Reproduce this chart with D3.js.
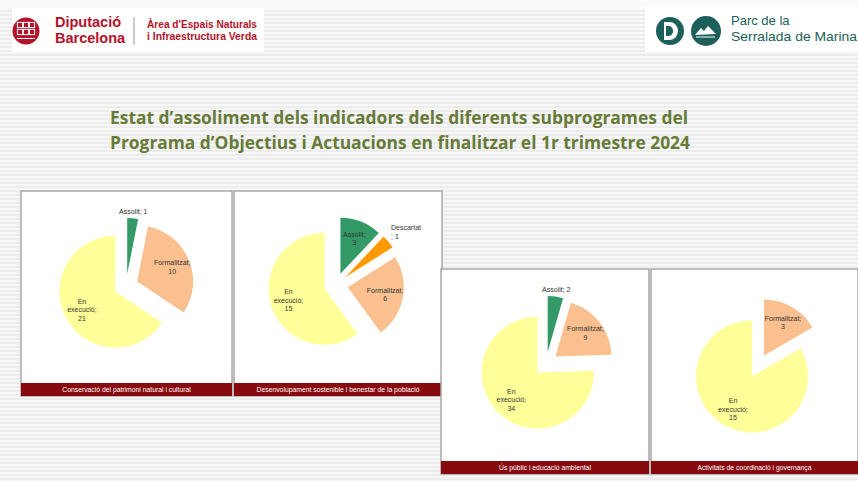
<!DOCTYPE html>
<html>
<head>
<meta charset="utf-8">
<script src="https://cdn.jsdelivr.net/npm/d3@7"></script>
<style>
  html, body { margin: 0; padding: 0; background: #f3f3f3; }
  svg { display: block; }
</style>
</head>
<body>
<script>
// ---------- DATA ----------
const subprograms = [
  "Conservació del patrimoni natural i cultural",
  "Desenvolupament sostenible i benestar de la població",
  "Ús públic i educació ambiental",
  "Activitats de coordinació i governança"
];
const statuses = ["Assolit", "Descartat", "Formalitzat", "En execució"];
const assolit     = [1, 3, 2, 0];
const descartat   = [0, 1, 0, 0];
const formalitzat = [10, 6, 9, 3];
const enExecucio  = [21, 15, 34, 15];

const titleLines = [
  "Estat d’assoliment dels indicadors dels diferents subprogrames del",
  "Programa d’Objectius i Actuacions en finalitzar el 1r trimestre 2024"
];

// ---------- LAYOUT ----------
const W = 858, H = 481;
const panels = [
  {x: 21,  y: 191, w: 211, h: 205, cx: 126, cy: 286},
  {x: 234, y: 191, w: 208, h: 205, cx: 336, cy: 285},
  {x: 441, y: 269, w: 208, h: 205, cx: 546, cy: 364},
  {x: 651, y: 269, w: 207, h: 205, cx: 758, cy: 366}
];
const R = 56, EXPLODE = 12, LABEL_R = 50;

const color = d3.scaleOrdinal()
  .domain(statuses)
  .range(["#339966", "#ff9900", "#fac090", "#ffff99"]);

const svg = d3.select("body").append("svg")
  .attr("width", W).attr("height", H)
  .attr("font-family", "Liberation Sans, Arial, sans-serif");

// background stripes
const defs = svg.append("defs");
const pat = defs.append("pattern").attr("id", "stripes")
  .attr("width", 4).attr("height", 4).attr("patternUnits", "userSpaceOnUse");
pat.append("rect").attr("width", 4).attr("height", 4).attr("fill", "#f7f7f7");
pat.append("rect").attr("y", 2).attr("width", 4).attr("height", 2).attr("fill", "#ececec");
svg.append("rect").attr("width", W).attr("height", H).attr("fill", "url(#stripes)");

// ---------- HEADER ----------
svg.append("rect").attr("x", 0).attr("y", 0).attr("width", W).attr("height", 8).attr("fill", "#fafafa");
svg.append("rect").attr("x", 12).attr("y", 8).attr("width", 252).attr("height", 44).attr("fill", "#ffffff");
svg.append("rect").attr("x", 645).attr("y", 6).attr("width", 213).attr("height", 46).attr("fill", "#ffffff");

const red = "#b3122a";
const dip = svg.append("g");
dip.append("circle").attr("cx", 26).attr("cy", 31).attr("r", 13.5).attr("fill", red);
[[20,25],[26,25],[32,25],[20,32],[26,32],[32,32]].forEach(([x,y]) => {
  dip.append("rect").attr("x", x-2.6).attr("y", y-2.6).attr("width", 5.2).attr("height", 5.2)
    .attr("fill", "none").attr("stroke", "#fff").attr("stroke-width", 1);
});
dip.append("line").attr("x1", 17).attr("x2", 35).attr("y1", 38.5).attr("y2", 38.5).attr("stroke", "#fff").attr("stroke-width", 1);
dip.append("text").attr("x", 55).attr("y", 27).attr("font-size", 14.5).attr("font-weight", "bold")
  .attr("fill", red).text("Diputació");
dip.append("text").attr("x", 55).attr("y", 43).attr("font-size", 14.5).attr("font-weight", "bold")
  .attr("fill", red).text("Barcelona");
dip.append("line").attr("x1", 134).attr("x2", 134).attr("y1", 17).attr("y2", 45)
  .attr("stroke", "#999").attr("stroke-width", 1);
dip.append("text").attr("x", 147).attr("y", 28).attr("font-size", 10).attr("font-weight", "bold")
  .attr("fill", red).attr("textLength", 110).attr("lengthAdjust", "spacingAndGlyphs")
  .text("Àrea d'Espais Naturals");
dip.append("text").attr("x", 147).attr("y", 40).attr("font-size", 10).attr("font-weight", "bold")
  .attr("fill", red).attr("textLength", 110).attr("lengthAdjust", "spacingAndGlyphs")
  .text("i Infraestructura Verda");

const teal = "#1d5f5b";
const parc = svg.append("g");
parc.append("circle").attr("cx", 670).attr("cy", 31).attr("r", 14).attr("fill", teal);
parc.append("path").attr("d", "M664,22 L670,22 A8,9 0 0 1 670,40 L664,40 Z").attr("fill", "#fff");
parc.append("path").attr("d", "M666,26 L669,26 A4,5 0 0 1 669,36 L666,36 Z").attr("fill", teal);
parc.append("circle").attr("cx", 706).attr("cy", 31).attr("r", 15).attr("fill", teal);
parc.append("path").attr("d", "M695,35 L701,28 L704,31 L708,26 L716,34 Z").attr("fill", "#fff");
parc.append("line").attr("x1", 696).attr("x2", 715).attr("y1", 37).attr("y2", 37).attr("stroke", "#fff").attr("stroke-width", 1);
parc.append("text").attr("x", 731).attr("y", 25).attr("font-size", 13).attr("fill", teal).text("Parc de la");
parc.append("text").attr("x", 731).attr("y", 41).attr("font-size", 13).attr("fill", teal)
  .attr("textLength", 126).attr("lengthAdjust", "spacingAndGlyphs").text("Serralada de Marina");

// ---------- TITLE ----------
const titleY = [124, 149];
const titleW = [578, 580];
titleLines.forEach((t, i) => {
  svg.append("text").attr("x", 110).attr("y", titleY[i])
    .attr("font-family", "Open Sans, Lato, sans-serif")
    .attr("font-size", 17).attr("font-weight", "bold").attr("fill", "#677a38")
    .attr("textLength", titleW[i]).attr("lengthAdjust", "spacingAndGlyphs")
    .text(t);
});

// ---------- PANELS ----------
const pie = d3.pie().sort(null).value(d => d.value);
const arc = d3.arc().innerRadius(0).outerRadius(R);

subprograms.forEach((name, i) => {
  const p = panels[i];
  const g = svg.append("g");
  g.append("rect").attr("x", p.x).attr("y", p.y).attr("width", p.w).attr("height", p.h)
    .attr("fill", "#ffffff").attr("stroke", "#a8a8a8").attr("stroke-width", 1.5);
  g.append("rect").attr("x", p.x).attr("y", p.y + p.h - 13).attr("width", p.w).attr("height", 13)
    .attr("fill", "#870a0e");
  g.append("text").attr("x", p.x + p.w / 2).attr("y", p.y + p.h - 4)
    .attr("text-anchor", "middle").attr("font-size", 6.8).attr("fill", "#ffffff")
    .text(name);

  const vals = [assolit[i], descartat[i], formalitzat[i], enExecucio[i]];
  const data = statuses.map((s, k) => ({status: s, value: vals[k]})).filter(d => d.value > 0);
  const total = d3.sum(data, d => d.value);
  const arcs = pie(data);
  const pg = g.append("g").attr("transform", `translate(${p.cx},${p.cy})`);

  arcs.forEach(a => {
    const mid = (a.startAngle + a.endAngle) / 2;
    const ox = EXPLODE * Math.sin(mid), oy = -EXPLODE * Math.cos(mid);
    pg.append("path").attr("d", arc(a))
      .attr("transform", `translate(${ox},${oy})`)
      .attr("fill", color(a.data.status));

    const frac = a.data.value / total;
    const label = `${a.data.status}; ${a.data.value}`;
    let lines, lx, ly, anchor = "middle";
    if (frac < 0.06) {
      const lr = R + EXPLODE + 6;
      lx = lr * Math.sin(mid); ly = -lr * Math.cos(mid);
      if (Math.abs(Math.sin(mid)) > 0.4) {
        anchor = "start";
        lines = [a.data.status, `; ${a.data.value}`];
        lx -= 2; ly -= 6;
      } else {
        lines = [label];
        ly -= 1;
      }
    } else {
      lines = label.split(" ");
      lx = LABEL_R * Math.sin(mid); ly = -LABEL_R * Math.cos(mid);
    }
    const lh = 8.5;
    const t = pg.append("text").attr("font-size", 7).attr("fill", "#333")
      .attr("text-anchor", anchor);
    lines.forEach((ln, j) => {
      t.append("tspan").attr("x", lx)
        .attr("y", ly + (j - (lines.length - 1) / 2) * lh + 2.5)
        .text(ln);
    });
  });
});
</script>
</body>
</html>
